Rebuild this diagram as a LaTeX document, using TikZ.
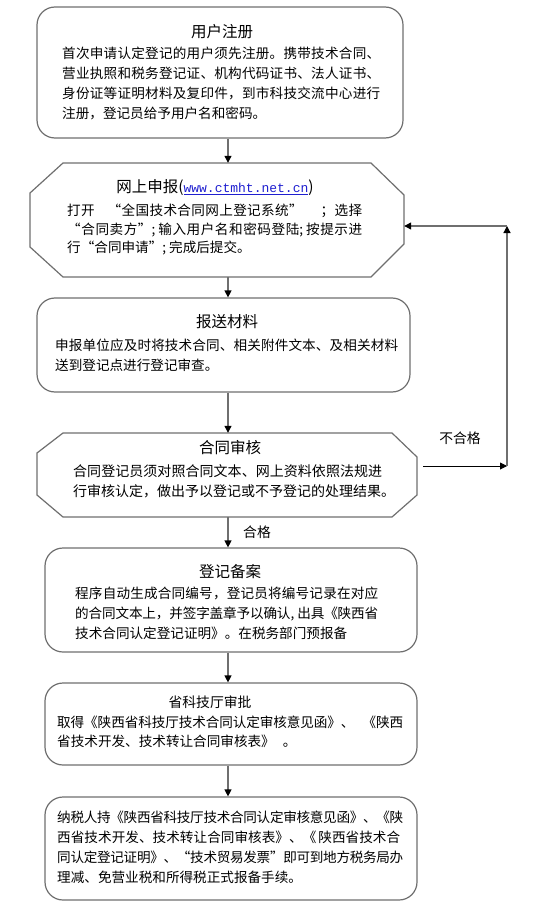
\documentclass[tikz,border=0pt]{standalone}
\usepackage{fontspec}
\setmainfont{Noto Sans CJK SC}
\newfontfamily\urlfont{Liberation Mono}
\usetikzlibrary{arrows.meta}
\definecolor{edgegray}{HTML}{6F6F6F}
\definecolor{linkblue}{HTML}{1F1FD0}
% inter-character glue for CJK so that lines can be justified like the original
\newcount\mycc
\mycc="4E00 \loop\ifnum\mycc<"A000 \XeTeXcharclass\mycc=1 \advance\mycc by 1 \repeat
\mycc="3000 \loop\ifnum\mycc<"3040 \XeTeXcharclass\mycc=1 \advance\mycc by 1 \repeat
\mycc="FF00 \loop\ifnum\mycc<"FFF0 \XeTeXcharclass\mycc=1 \advance\mycc by 1 \repeat
\XeTeXcharclass"201C=1 \XeTeXcharclass"201D=1
\XeTeXinterchartokenstate=1
\XeTeXinterchartoks 1 1 = {\hskip 0pt plus 1pt minus 0.3pt\relax}
\newcommand\myjl[2]{\hbox to #1pt{#2}}
\tikzset{
 boxline/.style={draw=edgegray, line width=1.2pt},
 rbox/.style={boxline, rounded corners=18pt, inner sep=0pt},
 frame/.style={inner sep=0pt, draw=none},
 body/.style={inner sep=0pt, anchor=north west, align=left, font=\fontsize{13.6}{20}\selectfont},
 bodytight/.style={body, font=\fontsize{13.6}{18.5}\selectfont},
 title/.style={inner sep=0pt, font=\fontsize{15.5}{18}\selectfont},
 lbl/.style={inner sep=0pt, font=\fontsize{13.8}{16}\selectfont},
 arr/.style={draw=edgegray, line width=1.2pt, -{Triangle[length=7pt,width=7pt,color=black]}},
}
\begin{document}
\begin{tikzpicture}[x=1pt,y=-1pt]
\useasboundingbox[fill=white] (0,0) rectangle (546,912);

% boxes
\node[rbox, minimum width=366pt, minimum height=131pt] (b1) at (220,72.5) {};
\node[frame, minimum width=374pt, minimum height=114pt] (b2) at (217,220) {};
\draw[boxline] (63,163) -- (371,163) -- (404,195) -- (404,244) -- (371,277) -- (63,277) -- (30,247) -- (30,193) -- cycle;
\node[rbox, minimum width=373pt, minimum height=94pt] (b3) at (223.5,345) {};
\node[frame, minimum width=380pt, minimum height=84pt] (b4) at (227,475) {};
\draw[boxline] (63,433) -- (392,433) -- (417,457) -- (417,495) -- (392,517) -- (63,517) -- (37,495) -- (37,453) -- cycle;
\node[rbox, minimum width=372pt, minimum height=104pt] (b5) at (231,600) {};
\node[rbox, minimum width=372pt, minimum height=82pt] (b6) at (231,724) {};
\node[rbox, minimum width=372pt, minimum height=103pt] (b7) at (231,848.5) {};

% texts
\node[title] (t1) at (222,32) {用户注册};
\node[body] (x1) at (62,46.5) {\myjl{318}{首次申请认定登记的用户须先注册。携带技术合同、}\\\myjl{318}{营业执照和税务登记证、机构代码证书、法人证书、}\\\myjl{318}{身份证等证明材料及复印件，到市科技交流中心进行}\\注册，登记员给予用户名和密码。};

\node[title] (t2) at (215,188) {网上申报(\textcolor{linkblue}{\underline{\urlfont\fontsize{13}{16}\selectfont www.ctmht.net.cn}})};
\node[bodytight] (x2) at (67,204) {\myjl{295}{打开\hspace{13pt}“全国技术合同网上登记系统”\hspace{18pt}；选择}\\\myjl{295}{“合同卖方”;\hspace{3pt}输入用户名和密码登陆;\hspace{3pt}按提示进}\\行“合同申请”;\hspace{3pt}完成后提交。};

\node[title] (t3) at (227,322) {报送材料};
\node[body] (x3) at (55,339) {\myjl{343}{申报单位应及时将技术合同、相关附件文本、及相关材料}\\送到登记点进行登记审查。};

\node[title] (t4) at (230,448) {合同审核};
\node[body, font=\fontsize{14}{20}\selectfont] (x4) at (73,464) {\myjl{309}{合同登记员须对照合同文本、网上资料依照法规进}\\行审核认定，做出予以登记或不予登记的处理结果。};

\node[title] (t5) at (230,572) {登记备案};
\node[body] (x5) at (75,587) {\myjl{303}{程序自动生成合同编号，登记员将编号记录在对应}\\\myjl{303}{的合同文本上，并签字盖章予以确认,\hspace{3pt}出具《陕西省}\\技术合同认定登记证明》。在税务部门预报备};

\node[lbl] (t6) at (210,702) {省科技厅审批};
\node[bodytight] (x6) at (57,716) {\myjl{346}{取得《陕西省科技厅技术合同认定审核意见函》、\hspace{8pt}《陕西}\\省技术开发、技术转让合同审核表》\hspace{8pt}。};

\node[body] (x7) at (57,811) {\myjl{343}{纳税人持《陕西省科技厅技术合同认定审核意见函》、《陕}\\\myjl{343}{西省技术开发、技术转让合同审核表》、《\hspace{2pt}陕西省技术合}\\\myjl{343}{同认定登记证明》、“技术贸易发票”即可到地方税务局办}\\理减、免营业税和所得税正式报备手续。};

% connectors
\coordinate (ax) at (228,0);
\draw[arr] (b1.south -| ax) -- (b2.north -| ax);
\draw[arr] (b2.south -| ax) -- (b3.north -| ax);
\draw[arr] (b3.south -| ax) -- (b4.north -| ax);
\draw[arr] (b4.south -| ax) -- (b5.north -| ax);
\draw[arr] (b5.south -| ax) -- (b6.north -| ax);
\draw[arr] (b6.south -| ax) -- (b7.north -| ax);
\node[lbl] (ok) at (257,532) {合格};

\coordinate (r0) at (423,466);
\coordinate (r1) at (507,466);
\coordinate (r2) at (507,226);
\draw[arr, draw=black, line width=0.9pt] (r0) -- (r1);
\draw[arr] (r1) -- (r2);
\draw[arr] (r2) -- (b2.east |- r2);
\node[lbl] (ng) at (460,438) {不合格};
\end{tikzpicture}
\end{document}
